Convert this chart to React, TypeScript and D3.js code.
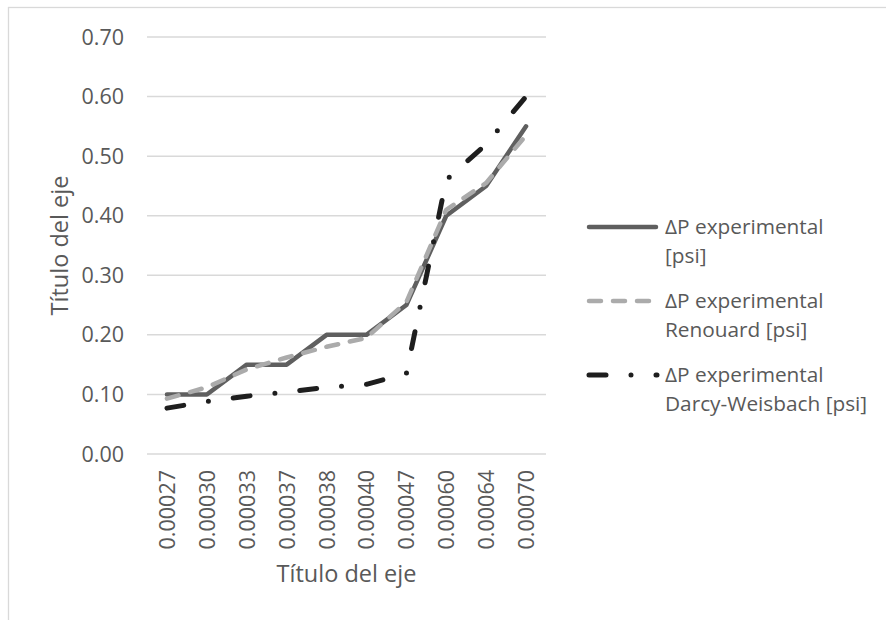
import React from "react";
import * as d3 from "d3";

const categories = ["0.00027", "0.00030", "0.00033", "0.00037", "0.00038", "0.00040", "0.00047", "0.00060", "0.00064", "0.00070"];
const experimental = [0.10, 0.10, 0.15, 0.15, 0.20, 0.20, 0.25, 0.40, 0.45, 0.55];
const renouard = [0.093, 0.112, 0.142, 0.162, 0.18, 0.195, 0.255, 0.41, 0.455, 0.535];
const darcy = [0.077, 0.088, 0.097, 0.104, 0.112, 0.117, 0.135, 0.46, 0.52, 0.60];
const yTicks = [0, 0.1, 0.2, 0.3, 0.4, 0.5, 0.6, 0.7];
const seriesNames = [
  ["ΔP experimental", "[psi]"],
  ["ΔP experimental", "Renouard [psi]"],
  ["ΔP experimental", "Darcy-Weisbach [psi]"],
];

const FONT = "'Open Sans', 'Liberation Sans', sans-serif";
const TXT = "#595959";

export default function App() {
  const W = 886, H = 620;
  const plot = { left: 147, right: 546, top: 37, bottom: 454 };
  const x = d3.scalePoint<string>().domain(categories).range([plot.left, plot.right]).padding(0.5);
  const y = d3.scaleLinear().domain([0, 0.7]).range([plot.bottom, plot.top]);
  const line = d3.line<number>().x((_, i) => x(categories[i]) as number).y((d) => y(d));

  const styles = [
    { data: experimental, stroke: "#5f5f5f", width: 4.5, dash: undefined as string | undefined },
    { data: renouard, stroke: "#ababab", width: 4.5, dash: "12 12" },
    { data: darcy, stroke: "#1e1e1e", width: 5, dash: "17 25 0 25" },
  ];
  const legendY = [227, 301, 375];

  return (
    <svg width={W} height={H} style={{ position: "absolute", left: 0, top: 0, background: "#fff" }}>
      <rect x={8.5} y={7.5} width={W + 20} height={H + 20} fill="#fff" stroke="#d9d9d9" strokeWidth={1.3} />
      {yTicks.map((t) => (
        <g key={t}>
          <line x1={plot.left} x2={plot.right} y1={y(t)} y2={y(t)} stroke="#d9d9d9" strokeWidth={1.5} />
          <text x={124} y={y(t)} dy="0.35em" textAnchor="end" fontFamily={FONT} fontSize={21.5} fill={TXT}>
            {t.toFixed(2)}
          </text>
        </g>
      ))}
      {categories.map((c) => (
        <text key={c} transform={`translate(${(x(c) as number) + 8},470) rotate(-90)`} textAnchor="end" fontFamily={FONT} fontSize={21.5} fill={TXT}>
          {c}
        </text>
      ))}
      <text x={(plot.left + plot.right) / 2} y={582} textAnchor="middle" fontFamily={FONT} fontSize={23.5} fill={TXT}>
        Título del eje
      </text>
      <text transform={`translate(68,${(plot.top + plot.bottom) / 2}) rotate(-90)`} textAnchor="middle" fontFamily={FONT} fontSize={23.5} fill={TXT}>
        Título del eje
      </text>
      {styles.map((s, i) => (
        <path key={i} d={line(s.data) || ""} fill="none" stroke={s.stroke} strokeWidth={s.width} strokeDasharray={s.dash} strokeLinecap="round" strokeLinejoin="round" />
      ))}
      {styles.map((s, i) => (
        <g key={"lg" + i}>
          <line x1={589} x2={i === 2 ? 657 : 656} y1={legendY[i]} y2={legendY[i]} stroke={s.stroke} strokeWidth={s.width} strokeDasharray={s.dash} strokeLinecap="round" />
          <text x={665} y={legendY[i]} dy="0.35em" fontFamily={FONT} fontSize={20.8} fill={TXT}>
            {seriesNames[i][0]}
          </text>
          <text x={665} y={legendY[i] + 28.5} dy="0.35em" fontFamily={FONT} fontSize={20.8} fill={TXT}>
            {seriesNames[i][1]}
          </text>
        </g>
      ))}
    </svg>
  );
}
